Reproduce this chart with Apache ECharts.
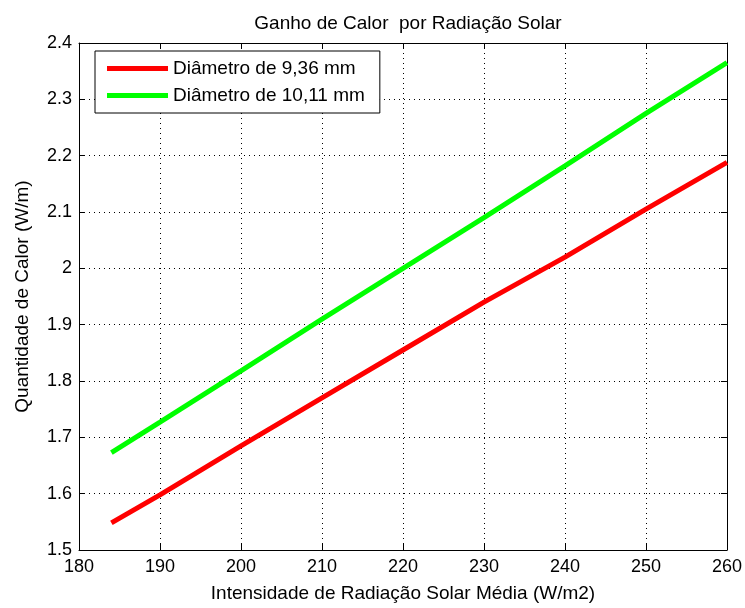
<!DOCTYPE html>
<html><head><meta charset="utf-8">
<script src="https://cdn.jsdelivr.net/npm/echarts@6/dist/echarts.min.js"></script>
<style>html,body{margin:0;padding:0;background:#fff}#c{width:745px;height:608px}</style>
</head><body><div id="c"></div>
<script>
var xValues = [184, 190, 200, 210, 220, 230, 240, 250, 260];
var red936 = [1.548, 1.598, 1.685, 1.770, 1.855, 1.940, 2.020, 2.105, 2.188];
var green1011 = [1.673, 1.727, 1.818, 1.910, 2.000, 2.090, 2.182, 2.275, 2.365];
var seriesNames = ['Diâmetro de 9,36 mm', 'Diâmetro de 10,11 mm'];
var titleText = 'Ganho de Calor  por Radiação Solar';
var xName = 'Intensidade de Radiação Solar Média (W/m2)';
var yName = 'Quantidade de Calor (W/m)';

function pairs(xs, ys){ return xs.map(function(x,i){return [x, ys[i]];}); }
var font = 'Liberation Sans, Arial, sans-serif';
var chart = echarts.init(document.getElementById('c'), null, {renderer:'canvas'});
var gridLine = {show:true, lineStyle:{color:'#000', type:[1,4], width:1}};
chart.setOption({
  animation:false,
  backgroundColor:'#fff',
  title:{text:titleText, left:403, top:9, textAlign:'center',
    textStyle:{fontFamily:font, fontWeight:'normal', fontSize:19, color:'#000'}},
  legend:{left:95, top:51, orient:'vertical', itemWidth:61, itemHeight:5, itemGap:8,
    padding:[8,15,8,12], borderColor:'#000', borderWidth:1, backgroundColor:'#fff',
    icon:'rect', z:10,
    textStyle:{fontFamily:font, fontSize:19, color:'#000'},
    data:seriesNames},
  grid:{left:79, right:16, top:43, bottom:54},
  xAxis:[{type:'value', min:180, max:260, interval:10, position:'bottom',
    name:xName, nameLocation:'middle', nameGap:34,
    nameTextStyle:{fontFamily:font, fontSize:19, color:'#000'},
    axisLine:{show:true, lineStyle:{color:'#000', width:1}},
    axisTick:{show:true, inside:true, length:6, lineStyle:{color:'#000'}},
    axisLabel:{fontFamily:font, fontSize:18, color:'#000', margin:8},
    splitLine:gridLine},
   {type:'value', min:180, max:260, interval:10, position:'top',
    axisLine:{show:true, onZero:false, lineStyle:{color:'#000', width:1}},
    axisTick:{show:true, inside:true, length:6, lineStyle:{color:'#000'}},
    axisLabel:{show:false}, splitLine:{show:false}}],
  yAxis:[{type:'value', min:1.5, max:2.4, interval:0.1, position:'left',
    name:yName, nameLocation:'middle', nameGap:47, nameRotate:90,
    nameTextStyle:{fontFamily:font, fontSize:19, color:'#000'},
    axisLine:{show:true, lineStyle:{color:'#000', width:1}},
    axisTick:{show:true, inside:true, length:6, lineStyle:{color:'#000'}},
    axisLabel:{fontFamily:font, fontSize:18, color:'#000', margin:7,
      formatter:function(v){ return String(parseFloat(v.toFixed(1))); }},
    splitLine:gridLine},
   {type:'value', min:1.5, max:2.4, interval:0.1, position:'right',
    axisLine:{show:true, onZero:false, lineStyle:{color:'#000', width:1}},
    axisTick:{show:true, inside:true, length:6, lineStyle:{color:'#000'}},
    axisLabel:{show:false}, splitLine:{show:false}}],
  series:[
    {name:seriesNames[0], type:'line', data:pairs(xValues, red936), symbol:'none',
     color:'#ff0000', lineStyle:{color:'#ff0000', width:5}},
    {name:seriesNames[1], type:'line', data:pairs(xValues, green1011), symbol:'none',
     color:'#00ff00', lineStyle:{color:'#00ff00', width:5}}
  ]
});
</script></body></html>
